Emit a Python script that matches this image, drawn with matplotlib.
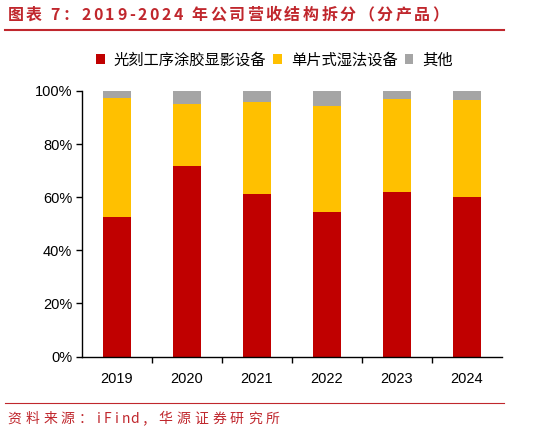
import matplotlib
matplotlib.use("Agg")
import matplotlib.pyplot as plt
import numpy as np

plt.rcParams['font.family'] = ['Noto Sans CJK SC', 'DejaVu Sans']

# 数据
years = ['2019', '2020', '2021', '2022', '2023', '2024']
litho = [52.5, 71.8, 61.1, 54.5, 62.0, 59.9]      # 光刻工序涂胶显影设备
wet = [44.7, 23.2, 34.9, 40.0, 35.0, 36.7]        # 单片式湿法设备
other = [2.8, 5.0, 4.0, 5.5, 3.0, 3.4]            # 其他
series_names = ['光刻工序涂胶显影设备', '单片式湿法设备', '其他']
colors = ['#C00000', '#FFC000', '#A5A5A5']
red = '#C0272D'

W, H = 539, 433
fig = plt.figure(figsize=(W / 100, H / 100), dpi=100)
ax = fig.add_axes([82 / W, 1 - 356.5 / H, 420 / W, 265.5 / H])

x = np.arange(len(years))
bottom = np.zeros(len(years))
for vals, name, c in zip([litho, wet, other], series_names, colors):
    v = np.array(vals) / 100.0
    ax.bar(x, v, 0.4, bottom=bottom, color=c, label=name, edgecolor='none')
    bottom += v

ax.set_xlim(-0.5, len(years) - 0.5)
ax.set_ylim(0, 1.0)
yt = np.linspace(0, 1, 6)
ax.set_yticks(yt)
ax.set_yticklabels(['%d%%' % round(t * 100) for t in yt],
                   family=['Liberation Sans'], fontsize=10.5)
ax.set_xticks(x)
ax.set_xticklabels(years, family=['Liberation Sans'], fontsize=10.5)
ax.set_xticks(np.arange(0.5, len(years) - 1, 1), minor=True)
ax.tick_params(axis='x', which='major', length=0, pad=11)
ax.tick_params(axis='x', which='minor', length=4, width=1)
ax.tick_params(axis='y', length=4, width=1, pad=3)
for s in ['top', 'right']:
    ax.spines[s].set_visible(False)
ax.spines['left'].set_linewidth(1)
ax.spines['bottom'].set_linewidth(1)

fig.legend(loc='center', bbox_to_anchor=(274.5 / W, 1 - 60 / H), ncol=3, frameon=False,
           fontsize=11, handlelength=0.55, handleheight=0.55,
           handletextpad=0.6, columnspacing=0.45)

r = fig.canvas.get_renderer()


def measure(txt, **kw):
    t = fig.text(0, 0, txt, **kw)
    w = t.get_window_extent(r).width
    t.remove()
    return w


# 字距：逐字放置，使整行宽度与原图一致
def tracked_text(x0, yc, s, width, **kw):
    base = measure('||', **kw)
    total = measure(s, **kw)
    track = (width - total) / (len(s) - 1)
    for i, ch in enumerate(s):
        adv = measure('|' + s[:i] + '|', **kw) - base
        fig.text((x0 + adv + i * track) / W, 1 - yc / H, ch,
                 va='center', ha='left', **kw)


# 等宽格子：全角一格，半角半格
def grid_text(x0, yc, s, cell, **kw):
    xx = x0
    for ch in s:
        c = cell / 2 if ord(ch) < 128 else cell
        fig.text((xx + c / 2) / W, 1 - yc / H, ch, va='center', ha='center', **kw)
        xx += c


# 标题
tracked_text(7.5, 15, '图表 7：2019-2024 年公司营收结构拆分（分产品）', 441,
             color=red, fontsize=11.5, fontweight='bold')
fig.add_artist(plt.Line2D([5 / W, 504 / W], [1 - 30.4 / H] * 2, color=red, lw=1.5))
fig.add_artist(plt.Line2D([5 / W, 504 / W], [1 - 403 / H] * 2, color=red, lw=0.8))
grid_text(5.5, 419, '资料来源：iFind，华源证券研究所', 17.8,
          color=red, fontsize=10)

fig.savefig('out.png', dpi=100)
